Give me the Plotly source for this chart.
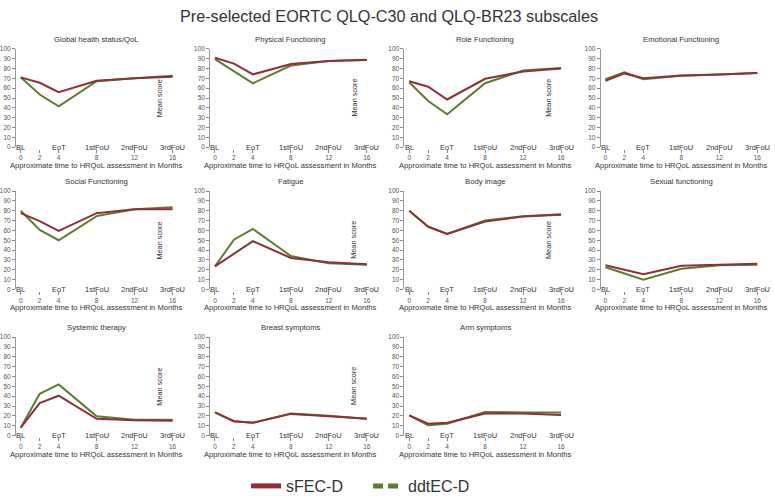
import plotly.graph_objects as go

W, H = 775, 503

months = [0, 2, 4, 8, 12, 16]
x_ticks = [0, 2, 4, 8, 12, 16]
y_ticks = [0, 10, 20, 30, 40, 50, 60, 70, 80, 90, 100]
cat_months = [0, 4, 8, 12, 16]
cat_labels = ["BL", "EoT", "1stFoU", "2ndFoU", "3rdFoU"]

series_names = ["sFEC-D", "ddtEC-D"]

titles = ["Global health status/QoL", "Physical Functioning", "Role Functioning",
          "Emotional Functioning", "Social Functioning", "Fatigue", "Body image",
          "Sexual functioning", "Systemic therapy", "Breast symptoms", "Arm symptoms"]

global_sfec = [71, 65.5, 56, 67.5, 70, 71.5]
global_ddt = [71, 53.5, 41.5, 67, 70, 72.5]
physical_sfec = [91, 85, 74, 84.5, 87.5, 89]
physical_ddt = [89.5, 77, 65, 83, 87.5, 88.5]
role_sfec = [67, 61.5, 48.5, 69.5, 77, 80]
role_ddt = [66, 47, 33.5, 65, 78, 80.5]
emotional_sfec = [67.5, 75, 70, 73, 74, 75.5]
emotional_ddt = [69, 76, 69, 72.5, 74, 75.5]
social_sfec = [77.5, 69.5, 59.5, 77.5, 81.5, 81.5]
social_ddt = [80, 60.5, 50, 74.5, 81.5, 83.5]
fatigue_sfec = [23.5, 36, 49, 32, 27.5, 25.5]
fatigue_ddt = [23.5, 50.5, 61.5, 34, 26.5, 25]
body_sfec = [80, 63.5, 56.5, 69, 74, 76]
body_ddt = [80, 64, 56.5, 70, 74.5, 76.5]
sexual_sfec = [24.5, 20, 15.5, 24, 25, 26]
sexual_ddt = [22.5, 16, 10, 21, 24.5, 25]
systemic_sfec = [8, 33, 40.5, 17, 15.5, 15]
systemic_ddt = [8, 42.5, 52, 19.5, 16, 16]
breast_sfec = [23.5, 14.5, 13, 22, 19.5, 17]
breast_ddt = [23.5, 14.5, 13, 22.5, 20, 17]
arm_sfec = [20.5, 12, 13, 22.5, 22.5, 21]
arm_ddt = [20.5, 10.5, 12, 24, 23.5, 23.5]

panels = [
    (global_sfec, global_ddt, True), (physical_sfec, physical_ddt, True),
    (role_sfec, role_ddt, True), (emotional_sfec, emotional_ddt, False),
    (social_sfec, social_ddt, True), (fatigue_sfec, fatigue_ddt, True),
    (body_sfec, body_ddt, True), (sexual_sfec, sexual_ddt, False),
    (systemic_sfec, systemic_ddt, True), (breast_sfec, breast_ddt, True),
    (arm_sfec, arm_ddt, False),
]

RED = "#8E2F3A"
GREEN = "#5B7D2D"
TXT = "#333333"
TICK = "#555555"
FONT = "Liberation Sans, Arial, sans-serif"

col_left = [13, 208, 403, 600]
col_w = 162
row_zero = [147, 293, 443]
row_h = 101

fig = go.Figure()
layout = {}
annotations = []

for i, (s1, s2, mean_lbl) in enumerate(panels):
    r, c = divmod(i, 4)
    n = i + 1
    xa = "x" if n == 1 else f"x{n}"
    ya = "y" if n == 1 else f"y{n}"
    xk = "xaxis" if n == 1 else f"xaxis{n}"
    yk = "yaxis" if n == 1 else f"yaxis{n}"
    x0 = col_left[c] / W
    x1 = (col_left[c] + col_w) / W
    ybot = 1 - row_zero[r] / H
    ytop = 1 - (row_zero[r] - row_h) / H

    fig.add_trace(go.Scatter(x=months, y=s2, mode="lines", xaxis=xa, yaxis=ya,
                             line=dict(color=GREEN, width=2), showlegend=False,
                             name=series_names[1]))
    fig.add_trace(go.Scatter(x=months, y=s1, mode="lines", xaxis=xa, yaxis=ya,
                             line=dict(color=RED, width=2), showlegend=False,
                             name=series_names[0]))

    layout[xk] = dict(domain=[x0, x1], range=[-0.5, 16.5], anchor="free",
                      position=ybot - 1.5 / H, tickvals=x_ticks, ticks="outside",
                      ticklen=3, tickcolor="#888", showline=False, showgrid=False,
                      zeroline=False, tickfont=dict(size=6.5, color=TICK, family=FONT))
    layout[yk] = dict(domain=[ybot, ytop], range=[0, 100], anchor=xa,
                      tickvals=y_ticks, ticks="outside", ticklen=3, tickcolor="#888",
                      showline=True, linecolor="#999", linewidth=1, showgrid=False,
                      zeroline=False, tickfont=dict(size=6.5, color=TICK, family=FONT))

    # subplot title
    annotations.append(dict(text=titles[i], x=(x0 + x1) / 2, y=ytop + 10 / H,
                            xref="paper", yref="paper", showarrow=False,
                            font=dict(size=7.7, color=TXT, family=FONT),
                            xanchor="center", yanchor="middle"))
    # category labels at y=0
    for cm, cl in zip(cat_months, cat_labels):
        annotations.append(dict(text=cl, x=cm, y=0, xref=xa, yref=ya, showarrow=False,
                                font=dict(size=7.5, color=TXT, family=FONT),
                                xanchor="center", yanchor="middle"))
    # x-axis title
    annotations.append(dict(text="Approximate time to HRQoL assessment in Months",
                            x=(x0 + x1) / 2, y=ybot - 19 / H, xref="paper", yref="paper",
                            showarrow=False, font=dict(size=7.6, color=TXT, family=FONT),
                            xanchor="center", yanchor="middle"))
    if mean_lbl:
        annotations.append(dict(text="Mean score", x=14.6, y=50, xref=xa, yref=ya,
                                showarrow=False, textangle=-90,
                                font=dict(size=7.3, color=TXT, family=FONT),
                                xanchor="center", yanchor="middle"))

# legend-only traces
fig.add_trace(go.Scatter(x=[None], y=[None], mode="lines", name=series_names[0],
                         line=dict(color=RED, width=5)))
fig.add_trace(go.Scatter(x=[None], y=[None], mode="lines", name=series_names[1],
                         line=dict(color=GREEN, width=5, dash="10px,5px")))

annotations.append(dict(text="Pre-selected EORTC QLQ-C30 and QLQ-BR23 subscales",
                        x=0.5, y=1 - 12 / H, xref="paper", yref="paper", showarrow=False,
                        font=dict(size=16.2, color=TXT, family=FONT),
                        xanchor="center", yanchor="middle"))

fig.update_layout(
    width=W, height=H, margin=dict(l=0, r=0, t=0, b=0),
    paper_bgcolor="white", plot_bgcolor="white",
    annotations=annotations,
    legend=dict(orientation="h", x=244 / W, y=1 - 495 / H, xanchor="left",
                yanchor="middle", font=dict(size=16, color=TXT, family=FONT),
                entrywidth=77, bgcolor="rgba(0,0,0,0)"),
    **layout,
)

fig.write_html("out.html", config={"displayModeBar": False},
               post_script="document.body.style.margin='0';document.body.style.overflow='hidden';")
